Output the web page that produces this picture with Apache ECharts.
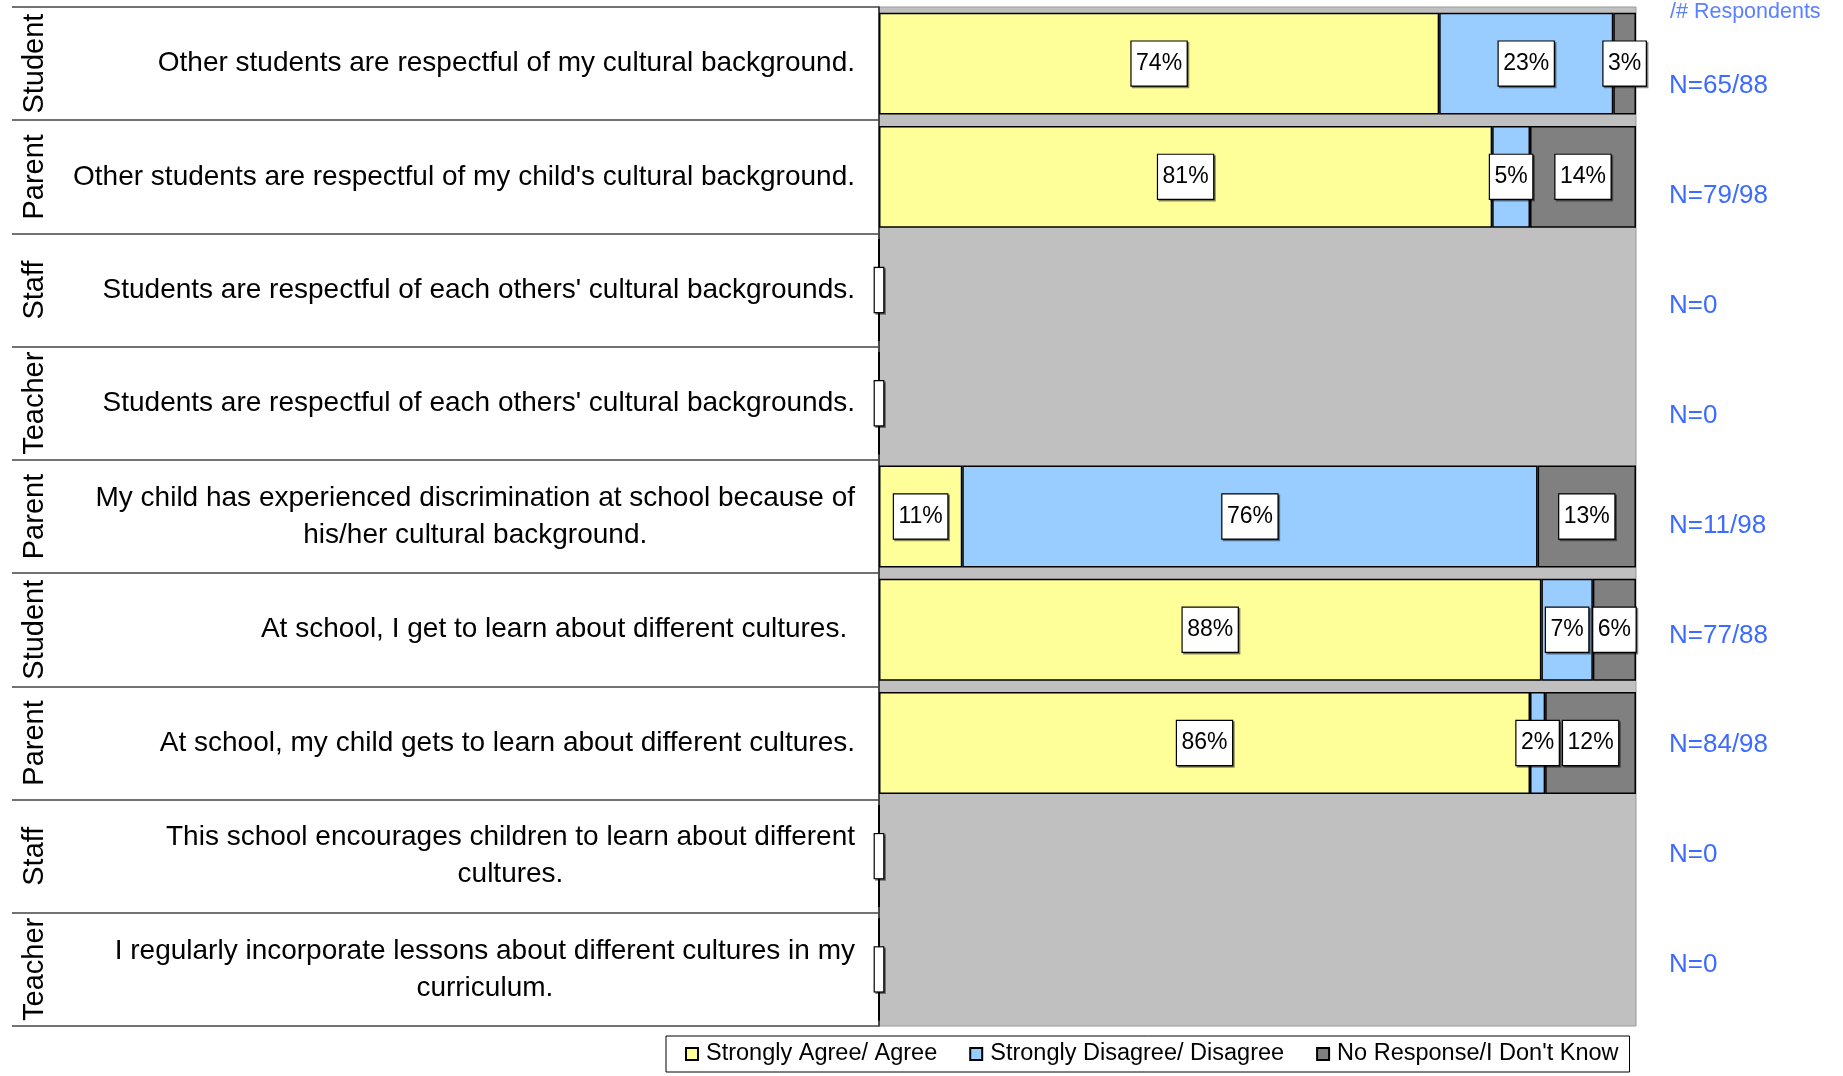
<!DOCTYPE html>
<html>
<head>
<meta charset="utf-8">
<script src="https://cdn.jsdelivr.net/npm/echarts@6/dist/echarts.min.js"></script>
<style>
  html, body { margin: 0; padding: 0; background: #fff; }
  #main { width: 1843px; height: 1076px; }
</style>
</head>
<body>
<div id="main"></div>
<script>
// rows from top to bottom
const roles = ['Student', 'Parent', 'Staff', 'Teacher', 'Parent', 'Student', 'Parent', 'Staff', 'Teacher']
const questions = [
  'Other students are respectful of my cultural background.',
  "Other students are respectful of my child's cultural background.",
  "Students are respectful of each others' cultural backgrounds.",
  "Students are respectful of each others' cultural backgrounds.",
  'My child has experienced discrimination at school because of\nhis/her cultural background.',
  'At school, I get to learn about different cultures. ',
  'At school, my child gets to learn about different cultures.',
  'This school encourages children to learn about different\ncultures.',
  'I regularly incorporate lessons about different cultures in my\ncurriculum.'
]
const respondents = ['N=65/88', 'N=79/98', 'N=0', 'N=0', 'N=11/98', 'N=77/88', 'N=84/98', 'N=0', 'N=0']
const agree = [74, 81, 0, 0, 11, 87.5, 86, 0, 0]
const disagree = [23, 5, 0, 0, 76, 6.8, 2, 0, 0]
const noResponse = [3, 14, 0, 0, 13, 5.7, 12, 0, 0]
const seriesNames = ['Strongly Agree/ Agree', 'Strongly Disagree/ Disagree', "No Response/I Don't Know"]

const FONT = '"Liberation Sans", Arial, sans-serif'

const boxLabel = {
  show: true,
  position: 'inside',
  color: '#000',
  fontFamily: FONT,
  fontSize: 23,
  lineHeight: 24,
  backgroundColor: '#fff',
  borderColor: '#000',
  borderWidth: 1.2,
  shadowColor: 'rgba(0,0,0,0.45)',
  shadowOffsetX: 1.5,
  shadowOffsetY: 1.5,
  formatter: p => (p.value > 0 ? Math.round(p.value) + '%' : ' ')
}

// the first series keeps an empty box on rows without answers, the others hide zeros
function makeData (values, keepZero) {
  return values.map(v => ({
    value: v,
    label: { show: v > 0 || keepZero, padding: v > 0 ? [10, 4.5] : [10, 1] }
  }))
}

function barSeries (name, values, color, keepZero) {
  return {
    name: name,
    type: 'bar',
    stack: 'all',
    barCategoryGap: '10%',
    itemStyle: { color: color, borderColor: '#000', borderWidth: 1.5 },
    label: boxLabel,
    data: makeData(values, keepZero)
  }
}

const myChart = echarts.init(document.getElementById('main'))
myChart.setOption({
  animation: false,
  textStyle: { fontFamily: FONT },
  title: {
    text: '/# Respondents',
    left: 1665,
    top: -4,
    textStyle: { color: '#5B80FF', fontSize: 21.5, fontWeight: 'normal', fontFamily: FONT }
  },
  legend: {
    left: 666,
    top: 1036,
    padding: [6, 11, 6, 19],
    itemGap: 32,
    itemWidth: 12,
    itemHeight: 12,
    icon: 'rect',
    selectedMode: false,
    backgroundColor: '#fff',
    borderColor: '#000',
    borderWidth: 1,
    textStyle: { color: '#000', fontSize: 23.5, fontFamily: FONT, padding: [0, 0, 0, 3] },
    data: seriesNames
  },
  grid: [
    {
      left: 879,
      right: 207,
      top: 7,
      bottom: 50,
      show: true,
      backgroundColor: '#C0C0C0',
      borderColor: '#9a9a9a',
      borderWidth: 1
    },
    // respondent counts sit on their own, slightly tighter, row spacing
    { left: 879, right: 207, top: 31, bottom: 56 }
  ],
  xAxis: [
    { type: 'value', min: 0, max: 100, show: false },
    { type: 'value', gridIndex: 1, min: 0, max: 100, show: false }
  ],
  yAxis: [
    {
      type: 'category',
      inverse: true,
      data: questions,
      axisLine: { show: true, lineStyle: { color: '#222', width: 1.5 } },
      axisTick: { show: true, inside: false, length: 867, lineStyle: { color: '#444', width: 1.5 } },
      axisLabel: {
        interval: 0,
        margin: 24,
        align: 'right',
        formatter: v => v.split('\n').map(s => '{q|' + s + '}').join('\n'),
        rich: {
          q: { fontSize: 28, lineHeight: 37, align: 'center', color: '#000', fontFamily: FONT }
        }
      },
      splitLine: { show: false }
    },
    {
      type: 'category',
      inverse: true,
      position: 'left',
      offset: 830,
      data: roles,
      axisLine: { show: false },
      axisTick: { show: false },
      axisLabel: { interval: 0, rotate: 90, margin: 0, fontSize: 29, color: '#000', fontFamily: FONT }
    },
    {
      type: 'category',
      gridIndex: 1,
      inverse: true,
      position: 'right',
      data: respondents,
      axisLine: { show: false },
      axisTick: { show: false },
      axisLabel: { interval: 0, align: 'left', margin: 33, fontSize: 26, color: '#3D6BFF', fontFamily: FONT }
    }
  ],
  series: [
    barSeries(seriesNames[0], agree, '#FFFF99', true),
    barSeries(seriesNames[1], disagree, '#99CCFF', false),
    barSeries(seriesNames[2], noResponse, '#808080', false)
  ]
})
</script>
</body>
</html>
